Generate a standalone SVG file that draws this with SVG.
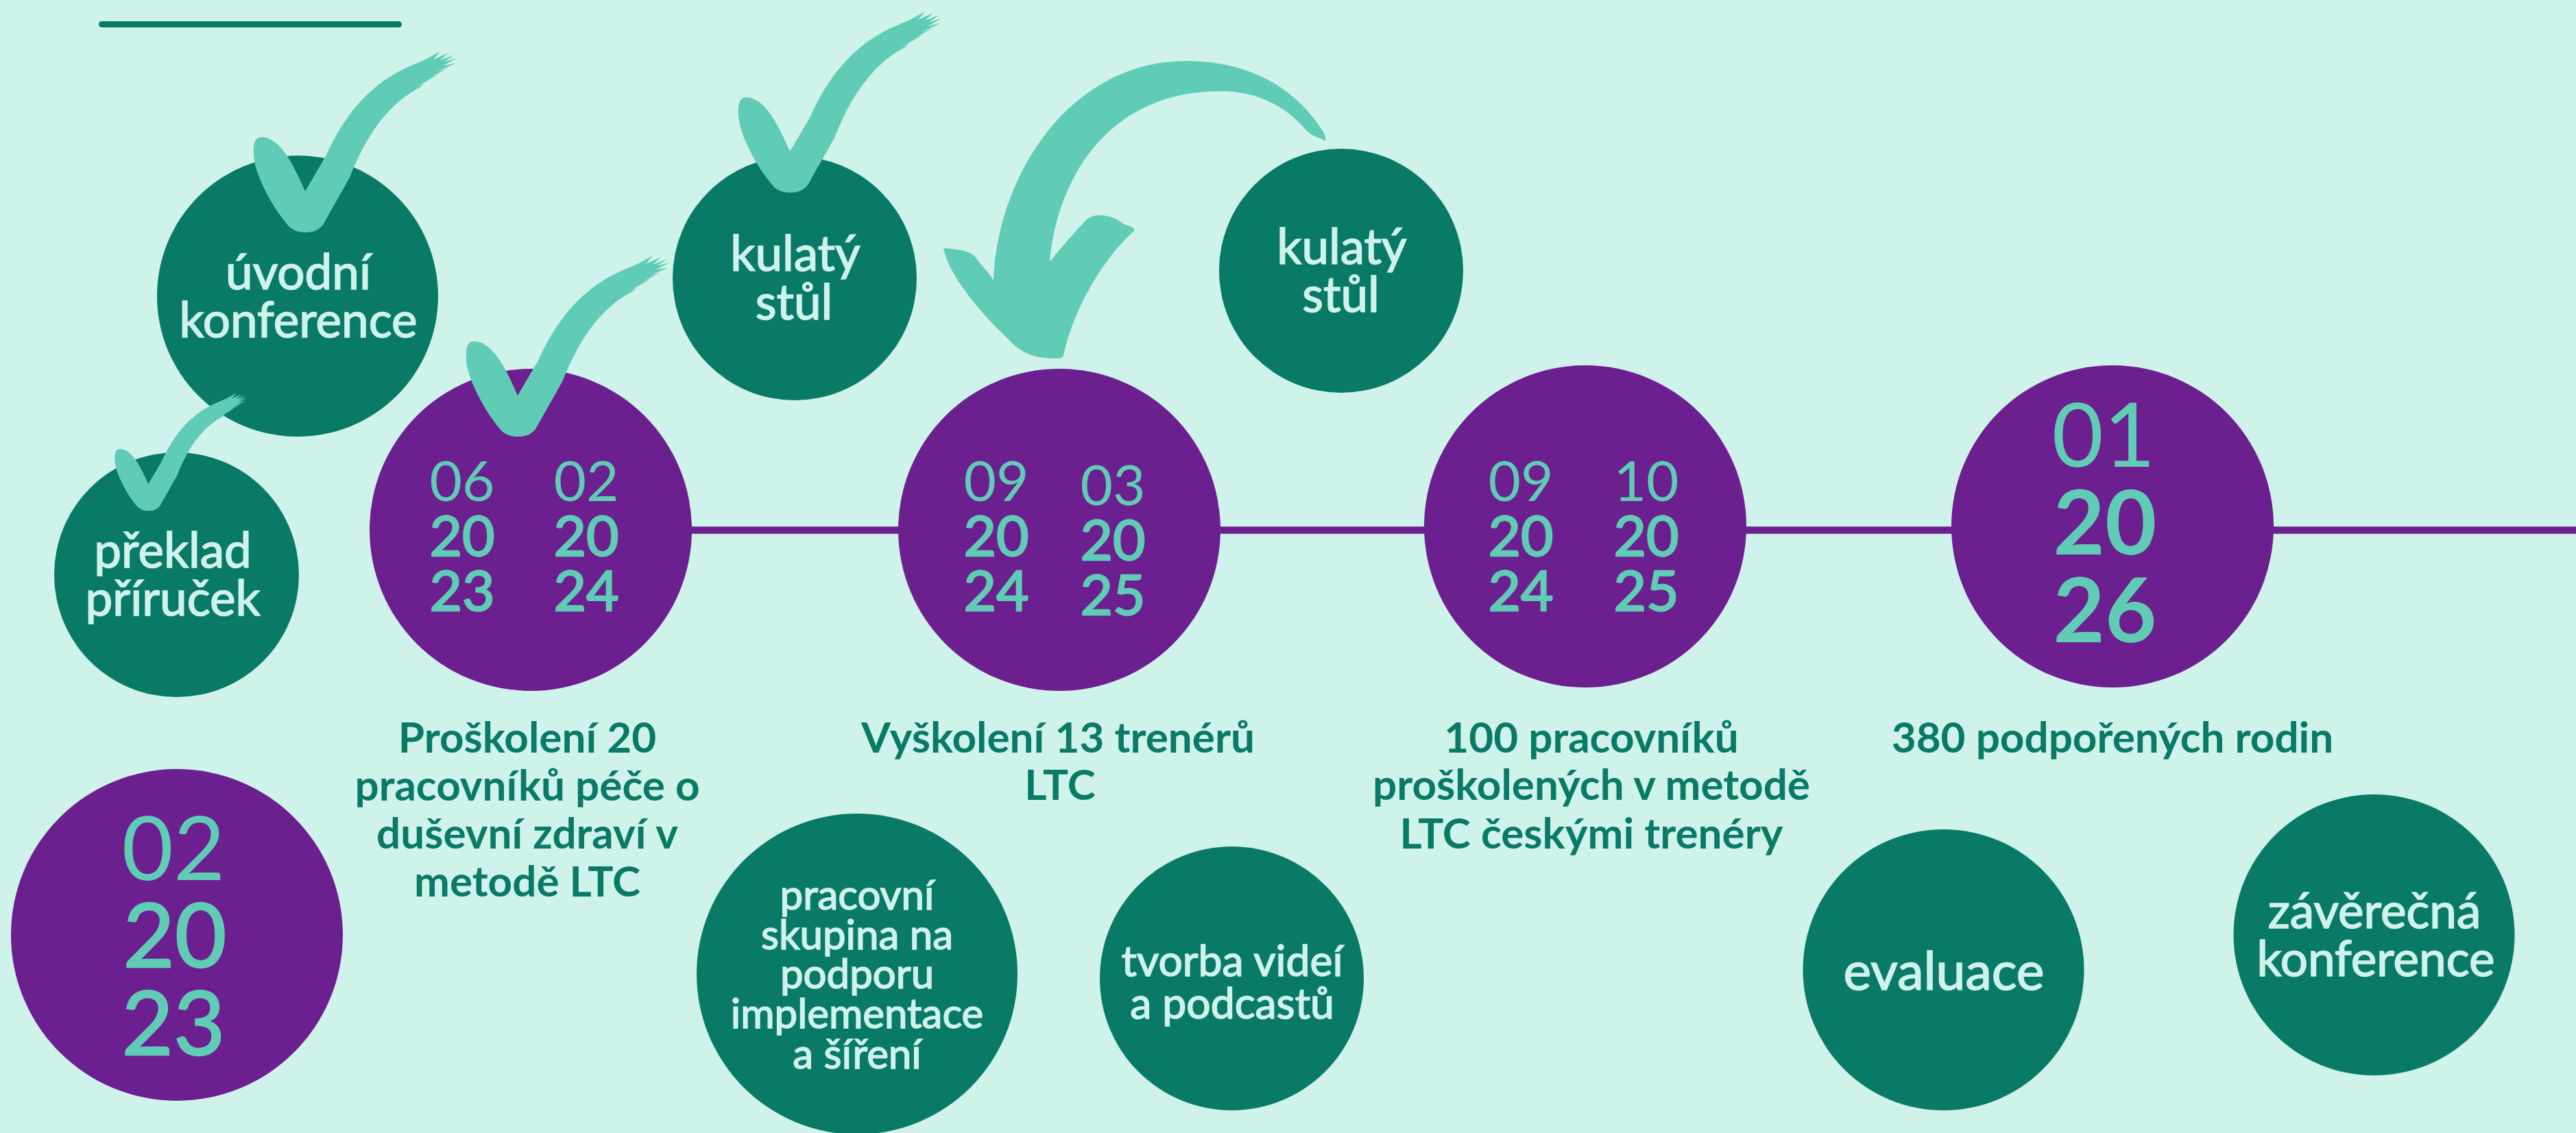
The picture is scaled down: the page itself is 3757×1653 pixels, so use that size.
<svg xmlns="http://www.w3.org/2000/svg" width="3757" height="1653" viewBox="0 0 3757 1653">
<style>
text{font-family:Lato,"Noto Sans",sans-serif;text-anchor:middle}
.g{fill:#087a66}.p{fill:#6c1f8f}.c{fill:#60ccb6}
.n{fill:#cff2ea;font-size:71px;stroke:#cff2ea;stroke-width:1.6}
.s{font-size:60px}.t{font-size:62.5px}.e{font-size:77px}
.h{fill:#087a66;font-size:62px;font-weight:700}
.d{fill:#60ccb6;font-size:82px}.b{stroke:#60ccb6;stroke-width:2.5}
.L{fill:#60ccb6;font-size:130px}
</style>
<defs>
<path id="check" d="M381 200C370 200 368 215 371 235C375 258 395 300 421 330C428 337 437 339 446 339C456 339 465 336 471 328L510 259C535 195 568 150 613 127L618 122L606 128L640 108L628 113L653 99L636 105L665 92L646 96L666 85L648 90L663 80L642 88L654 77L632 87L642 75L620 87L599 96C555 115 510 150 475 228L445 279C430 245 410 200 381 200Z"/>
</defs>
<rect width="3757" height="1653" fill="#cff2ea"/>
<g id="connectors">
<path d="M1000 773.5H3757" stroke="#6c1f8f" stroke-width="10.5" fill="none"/>
</g>
<rect id="rule" x="144" y="31" width="442" height="9" rx="4.5" class="g"/>
<g id="node-prekald"><circle cx="257.5" cy="838.5" r="178.5" class="g"/><text class="n" x="252" y="828">překlad</text><text class="n" x="252" y="898">příruček</text></g>
<g id="node-uvodni"><circle cx="434" cy="432" r="205" class="g"/><text class="n" x="435" y="422">úvodní</text><text class="n" x="435" y="492">konference</text></g>
<g id="node-2023a"><circle cx="258" cy="1364" r="242" class="p"/><text class="L" x="253" y="1284">02</text><text class="L b" x="255" y="1411">20</text><text class="L b" x="253" y="1539">23</text></g>
<g id="node-d1"><circle cx="774" cy="773" r="235" class="p"/><text class="d" x="674" y="731">06</text><text class="d b" x="674" y="811">20</text><text class="d b" x="674" y="891">23</text><text class="d" x="855" y="731">02</text><text class="d b" x="855" y="811">20</text><text class="d b" x="855" y="891">24</text></g>
<g id="node-d2"><circle cx="1545" cy="773" r="235" class="p"/><text class="d" x="1453" y="731">09</text><text class="d b" x="1453" y="811">20</text><text class="d b" x="1453" y="891">24</text><text class="d" x="1623" y="737">03</text><text class="d b" x="1623" y="817">20</text><text class="d b" x="1623" y="897">25</text></g>
<g id="node-d3"><circle cx="2312" cy="768" r="235" class="p"/><text class="d" x="2218" y="731">09</text><text class="d b" x="2218" y="811">20</text><text class="d b" x="2218" y="891">24</text><text class="d" x="2401" y="731">10</text><text class="d b" x="2401" y="811">20</text><text class="d b" x="2401" y="891">25</text></g>
<g id="node-d4"><circle cx="3081" cy="768" r="235" class="p"/><text class="L" x="3068" y="681">01</text><text class="L" x="3070" y="809" font-weight="700">20</text><text class="L" x="3070" y="937" font-weight="700">26</text></g>
<g id="node-kulaty1"><circle cx="1159" cy="406" r="178" class="g"/><text class="n" x="1160" y="395">kulatý</text><text class="n" x="1158" y="466">stůl</text></g>
<g id="node-kulaty2"><circle cx="1956" cy="395" r="178" class="g"/><text class="n" x="1957" y="384.5">kulatý</text><text class="n" x="1955.5" y="454.5">stůl</text></g>
<g id="node-pracovni"><circle cx="1250" cy="1421" r="234" class="g"/><text class="n s" x="1250" y="1327">pracovní</text><text class="n s" x="1250" y="1385">skupina na</text><text class="n s" x="1250" y="1442">podporu</text><text class="n s" x="1250" y="1500">implementace</text><text class="n s" x="1250" y="1559">a šíření</text></g>
<g id="node-tvorba"><circle cx="1796.5" cy="1427.5" r="192.5" class="g"/><text class="n t" x="1797" y="1424">tvorba videí</text><text class="n t" x="1797" y="1486">a podcastů</text></g>
<g id="node-evaluace"><circle cx="2834.5" cy="1415" r="205" class="g"/><text class="n e" x="2835" y="1444">evaluace</text></g>
<g id="node-zaverecna"><circle cx="3462.5" cy="1364" r="205" class="g"/><text class="n" x="3463" y="1353.5">závěrečná</text><text class="n" x="3465" y="1424">konference</text></g>
<g id="label-1"><text class="h" x="769" y="1098">Proškolení 20</text><text class="h" x="769" y="1168">pracovníků péče o</text><text class="h" x="769" y="1238">duševní zdraví v</text><text class="h" x="769" y="1308">metodě LTC</text></g>
<g id="label-2"><text class="h" x="1543" y="1097.5">Vyškolení 13 trenérů</text><text class="h" x="1546" y="1167">LTC</text></g>
<g id="label-3"><text class="h" x="2321" y="1097.5">100 pracovníků</text><text class="h" x="2321" y="1167">proškolených v metodě</text><text class="h" x="2321" y="1238">LTC českými trenéry</text></g>
<g id="label-4"><text class="h" x="3081" y="1097.5">380 podpořených rodin</text></g>
<use href="#check" class="c"/>
<use href="#check" class="c" transform="translate(310 298)"/>
<use href="#check" class="c" transform="translate(707 -58)"/>
<use href="#check" class="c" transform="translate(-73 525) scale(.65)"/>
<path class="c" d="M1933 206C1934 200 1932 195 1929 191C1890 130 1825 89 1730 89C1565 89 1455 250 1449 409C1440 395 1432 388 1424 377C1418 368 1405 364 1376 362C1383 400 1428 455 1470 494C1490 518 1515 523 1539 523C1547 523 1550 522 1551 519C1562 465 1600 385 1654 337C1655 333 1652 331 1639 327C1632 322 1625 315 1604 314C1595 314 1590 316 1584 321C1566 340 1547 362 1531 382C1540 270 1610 133 1780 133C1840 133 1880 160 1906 191C1915 200 1925 200 1933 206Z"/>
</svg>
